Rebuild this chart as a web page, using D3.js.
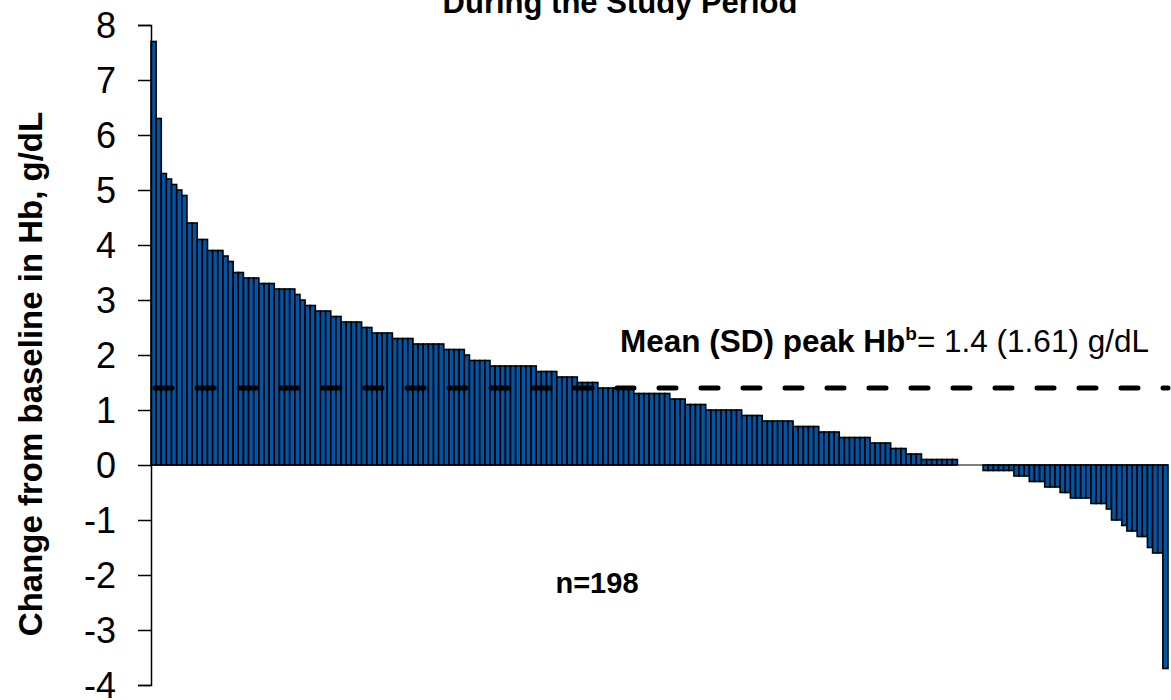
<html>
<head>
<meta charset="utf-8">
<style>
    body { margin: 0; background: #fff; }
    svg { font-family: Arial, "Liberation Sans", sans-serif; }
    .chart .bar { fill: #0055a5; stroke: #000; stroke-width: 1.6; }
    .chart .axis path, .chart .axis line { stroke: #000; stroke-width: 1.5; fill: none; }
    .chart .title { font-size: 31px; font-weight: bold; text-anchor: middle; }
    .chart .ylabel { font-size: 33px; font-weight: bold; text-anchor: middle; }
    .chart .note { font-size: 31.5px; }
    .chart .n { font-size: 29px; font-weight: bold; text-anchor: middle; }
</style>
</head>
<body>
<svg class="chart" width="1171" height="700"></svg>
<script src="https://d3js.org/d3.v7.min.js"></script>
<script>
    // change from baseline in Hb (g/dL), one value per patient, sorted
    var changes = [
        7.7, 6.3, 5.3, 5.2, 5.1, 5.0, 4.9, 4.4, 4.4, 4.1, 4.1, 3.9, 3.9, 3.9, 3.8, 3.7,
        3.5, 3.5, 3.4, 3.4, 3.4, 3.3, 3.3, 3.3, 3.2, 3.2, 3.2, 3.2, 3.1, 3.0, 2.9, 2.9,
        2.8, 2.8, 2.8, 2.7, 2.7, 2.6, 2.6, 2.6, 2.6, 2.5, 2.5, 2.4, 2.4, 2.4, 2.4,
        2.3, 2.3, 2.3, 2.3, 2.2, 2.2, 2.2, 2.2, 2.2, 2.2, 2.1, 2.1, 2.1, 2.1, 2.0,
        1.9, 1.9, 1.9, 1.9, 1.8, 1.8, 1.8, 1.8, 1.8, 1.8, 1.8, 1.8, 1.8,
        1.7, 1.7, 1.7, 1.7, 1.6, 1.6, 1.6, 1.6, 1.5, 1.5, 1.5, 1.5,
        1.4, 1.4, 1.4, 1.4, 1.4, 1.4, 1.4, 1.3, 1.3, 1.3, 1.3, 1.3, 1.3, 1.3,
        1.2, 1.2, 1.2, 1.1, 1.1, 1.1, 1.1, 1.0, 1.0, 1.0, 1.0, 1.0, 1.0, 1.0,
        0.9, 0.9, 0.9, 0.9, 0.8, 0.8, 0.8, 0.8, 0.8, 0.8, 0.7, 0.7, 0.7, 0.7, 0.7,
        0.6, 0.6, 0.6, 0.6, 0.5, 0.5, 0.5, 0.5, 0.5, 0.5, 0.4, 0.4, 0.4, 0.4,
        0.3, 0.3, 0.3, 0.2, 0.2, 0.2, 0.1, 0.1, 0.1, 0.1, 0.1, 0.1, 0.1,
        0, 0, 0, 0, 0,
        -0.1, -0.1, -0.1, -0.1, -0.1, -0.1, -0.2, -0.2, -0.2, -0.3, -0.3, -0.3,
        -0.4, -0.4, -0.4, -0.5, -0.5, -0.6, -0.6, -0.6, -0.6, -0.7, -0.7, -0.7,
        -0.8, -1.0, -1.0, -1.1, -1.2, -1.2, -1.3, -1.3, -1.5, -1.6, -1.6, -3.7
    ];
    var yTicks = [-4, -3, -2, -1, 0, 1, 2, 3, 4, 5, 6, 7, 8];
    var meanPeak = 1.4;
    var sdPeak = 1.61;

    var chart = d3.select('.chart');

    var xScale = d3.scaleBand()
        .domain(d3.range(changes.length))
        .range([151, 1168])
        .padding(0);

    var yScale = d3.scaleLinear()
        .domain([-4, 8])
        .range([685, 25]);

    // bars
    chart.append('g').selectAll('rect')
        .data(changes)
        .enter()
        .append('rect')
        .attr('class', 'bar')
        .attr('x', function(d, i) { return xScale(i); })
        .attr('width', xScale.bandwidth())
        .attr('y', function(d) { return yScale(Math.max(0, d)); })
        .attr('height', function(d) { return Math.abs(yScale(d) - yScale(0)); });

    // zero line
    chart.append('line')
        .attr('x1', 151).attr('x2', 1168)
        .attr('y1', yScale(0)).attr('y2', yScale(0))
        .attr('stroke', '#000').attr('stroke-width', 1);

    // y axis
    var yAxis = d3.axisLeft(yScale)
        .tickValues(yTicks)
        .tickFormat(function(d) { return String(d); })
        .tickSize(13)
        .tickPadding(22)
        .tickSizeOuter(13);
    chart.append('g')
        .attr('class', 'axis')
        .attr('transform', 'translate(151,0)')
        .call(yAxis)
        .selectAll('text')
        .attr('font-family', 'Arial, "Liberation Sans", sans-serif')
        .attr('font-size', 36)
        .attr('fill', '#000')
        .attr('dy', '0.36em');

    // mean line
    chart.append('line')
        .attr('x1', 151).attr('x2', 1168)
        .attr('y1', yScale(meanPeak)).attr('y2', yScale(meanPeak))
        .attr('stroke', '#000')
        .attr('stroke-width', 5)
        .attr('stroke-linecap', 'round')
        .attr('stroke-dasharray', '17,25')
        .attr('stroke-dashoffset', 38);

    var note = chart.append('text')
        .attr('class', 'note')
        .attr('x', 620)
        .attr('y', 352);
    note.append('tspan').attr('font-weight', 'bold').text('Mean (SD) peak Hb');
    note.append('tspan').attr('font-weight', 'bold').attr('font-size', 19).attr('dy', -12).text('b');
    note.append('tspan').attr('dy', 12).text('= ' + meanPeak + ' (' + sdPeak + ') g/dL');

    chart.append('text')
        .attr('class', 'n')
        .attr('x', 597)
        .attr('y', 593)
        .text('n=' + changes.length);

    chart.append('text')
        .attr('class', 'title')
        .attr('x', 620)
        .attr('y', 13)
        .text('During the Study Period');

    chart.append('text')
        .attr('class', 'ylabel')
        .attr('transform', 'translate(42,374) rotate(-90)')
        .text('Change from baseline in Hb, g/dL');
</script>
</body>
</html>
